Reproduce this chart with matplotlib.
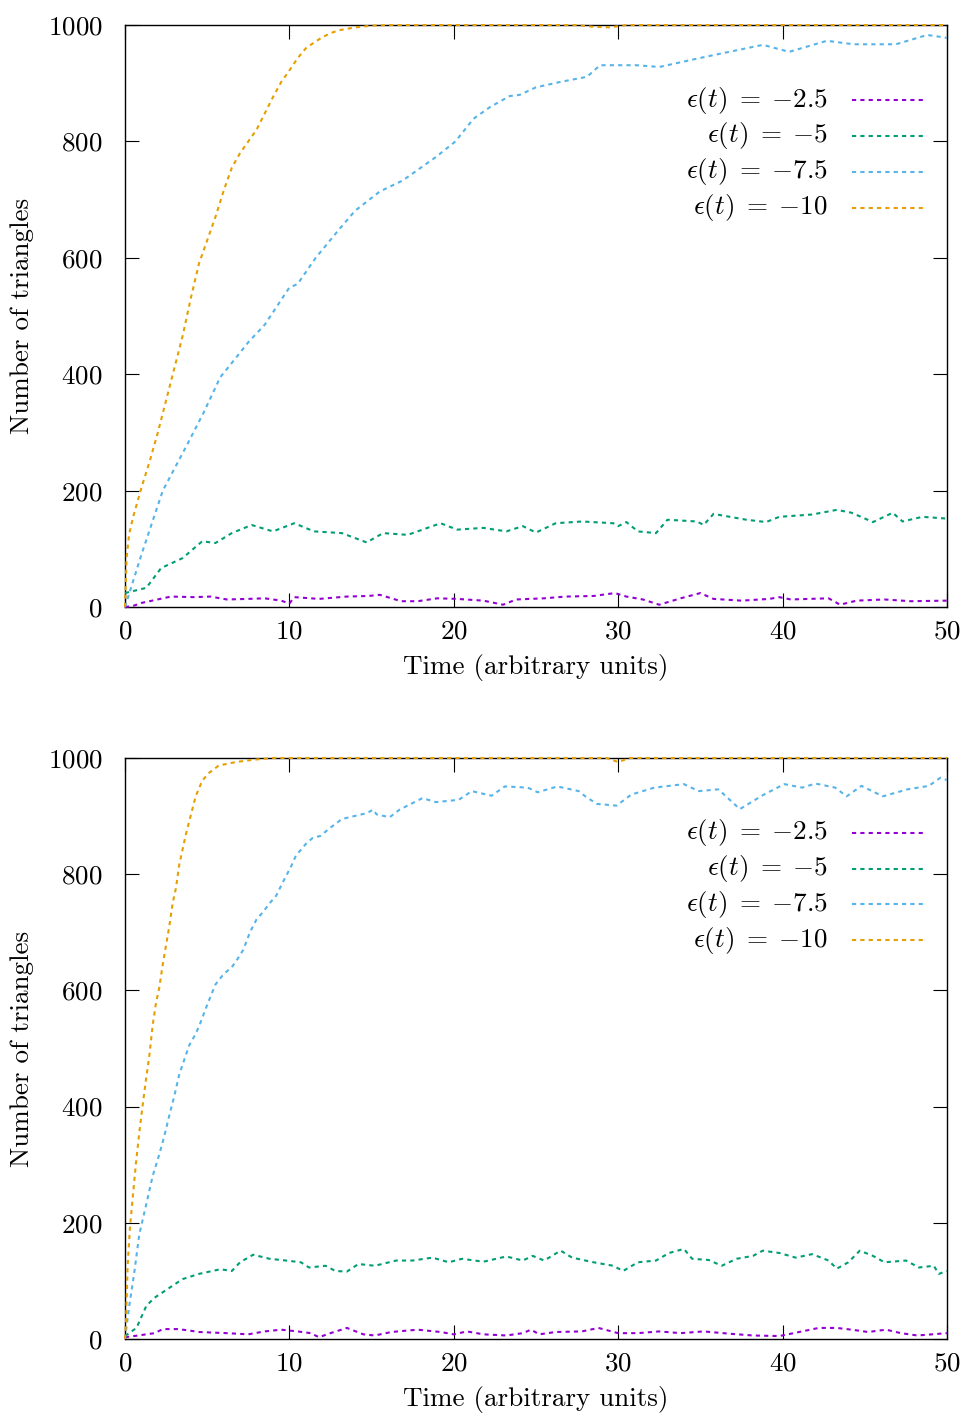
import matplotlib
matplotlib.use('Agg')
import matplotlib.pyplot as plt

# gnuplot-ish look with Computer Modern text
plt.rcParams['font.family'] = 'serif'
plt.rcParams['font.serif'] = ['cmr10']
plt.rcParams['mathtext.fontset'] = 'cm'
plt.rcParams['axes.unicode_minus'] = False
plt.rcParams['axes.formatter.use_mathtext'] = True

labels = [r'$\epsilon(t)\;=\;{-}2.5$', r'$\epsilon(t)\;=\;{-}5$',
          r'$\epsilon(t)\;=\;{-}7.5$', r'$\epsilon(t)\;=\;{-}10$']
colors = ['#9400d3', '#009e73', '#56b4e9', '#e69f00']

# ---- top panel ----
top_t_25 = [0, 0.5, 1, 2.8, 4.2, 5.2, 6.2, 7.5, 8.5, 9.5, 10, 10.3, 11.8, 13.5, 14.8, 15.5,
            16.8, 17.8, 19, 20.2, 21.8, 23, 23.8, 25.5, 26.8, 28.5, 29.8, 30.5, 31.5, 32.5,
            33.8, 35, 35.8, 37.5, 39.2, 39.8, 40.5, 42.8, 43.5, 44.5, 46.2, 47.8, 50]
top_v_25 = [0, 2, 7, 18, 17, 18, 13, 14, 15, 11, 6, 17, 14, 18, 19, 21,
            10, 10, 15, 14, 11, 4, 13, 15, 18, 19, 24, 18, 13, 4,
            15, 24, 14, 11, 14, 17, 13, 15, 4, 11, 13, 10, 11]

top_t_5 = [0, 1.3, 2.2, 3.5, 4.7, 5.5, 6.5, 7.7, 9, 10.3, 11.5, 13.2, 14.7, 15.7, 17.2,
           19.2, 20.2, 21.8, 23.2, 24.2, 25, 26.2, 27.8, 29.7, 30, 30.5, 31.2, 32.3, 33,
           34.8, 35.2, 35.8, 37.8, 39, 39.8, 41.8, 43.3, 44.2, 45.5, 46.7, 47.3, 48.5, 50]
top_v_5 = [24, 33, 67, 84, 113, 110, 127, 141, 130, 144, 130, 127, 111, 127, 124,
           144, 133, 136, 130, 139, 128, 144, 147, 144, 139, 146, 130, 127, 150,
           147, 141, 160, 150, 146, 155, 159, 167, 162, 146, 162, 147, 155, 152]

top_t_75 = [0, 1, 2.3, 3.8, 4.8, 5.8, 6.8, 7.5, 8.5, 10, 10.5, 11.6, 13, 14, 15.5, 16.9,
            18.9, 20.1, 21.2, 22.2, 23.4, 24, 25, 26.6, 28.1, 28.9, 31.1, 32.5, 35.4,
            38.8, 40.4, 42.7, 44.3, 46.9, 48.8, 50]
top_v_75 = [0, 90, 200, 280, 335, 395, 430, 455, 485, 549, 555, 600, 648, 681, 714, 733,
            773, 800, 839, 859, 878, 880, 893, 903, 911, 931, 931, 928, 946,
            966, 954, 973, 967, 967, 983, 978]

top_t_10 = [0, 0.1, 0.25, 0.5, 0.75, 1, 1.5, 2, 2.5, 3, 3.5, 4, 4.5, 5, 5.5, 6, 6.5, 7,
            7.5, 8, 8.5, 9, 9.5, 10, 10.5, 11, 11.5, 12, 12.5, 13, 14, 15, 16, 27.5,
            28.5, 29.5, 30.5, 50]
top_v_10 = [0, 85, 125, 155, 180, 205, 250, 300, 355, 410, 465, 530, 590, 630, 670, 715,
            755, 780, 800, 820, 848, 876, 902, 922, 943, 960, 970, 979, 986, 991, 996,
            999, 1000, 1000, 997, 996, 1000, 1000]

# ---- bottom panel ----
bot_t_25 = [0, 0.8, 1.8, 2.3, 3.2, 3.8, 4.5, 6.2, 7.5, 8.5, 9.5, 10.5, 11.3, 11.8, 12.5,
            13.5, 14.5, 15.2, 16.2, 17.8, 19.2, 20, 20.8, 21.8, 23.2, 24.2, 24.7, 25.2,
            26.2, 27.8, 28.8, 30, 31.2, 32.5, 33.8, 35.2, 36.8, 38.2, 39.8, 40.5, 42.2,
            43.3, 44.2, 45.2, 46.3, 47.2, 48.2, 50]
bot_v_25 = [3, 6, 10, 17, 17, 15, 12, 10, 8, 13, 16, 13, 10, 3, 10,
            19, 8, 6, 12, 16, 12, 8, 13, 8, 6, 10, 16, 8,
            12, 13, 19, 10, 10, 13, 10, 13, 9, 6, 5, 9, 19,
            19, 16, 12, 16, 10, 6, 10]

bot_t_5 = [0, 0.7, 1.3, 1.8, 2.7, 3.5, 4.5, 5.8, 6.5, 7, 7.8, 8.8, 9.8, 10.7, 11.2, 12.2,
           12.8, 13.5, 14.2, 15.2, 16.5, 17.5, 18.7, 19.7, 20.5, 21.8, 23.2, 24.2, 24.8,
           25.5, 26.5, 27.2, 28.5, 29.7, 30.3, 31.2, 32.3, 33.1, 34, 34.5, 35.5, 36.3,
           37.2, 38.2, 38.8, 39.8, 40.8, 41.8, 42.8, 43.3, 44, 44.7, 45.5, 46.2, 47.5,
           48.3, 49.2, 49.5, 50]
bot_v_5 = [5, 19, 57, 71, 88, 103, 112, 120, 117, 132, 145, 138, 135, 132, 123, 126,
           117, 116, 129, 126, 135, 135, 140, 132, 138, 133, 142, 135, 143,
           135, 152, 140, 132, 126, 117, 132, 135, 148, 155, 138, 136, 126,
           138, 143, 152, 148, 140, 146, 135, 121, 132, 152, 143, 132, 135,
           123, 126, 112, 117]

bot_t_75 = [0, 0.25, 0.57, 0.87, 1.28, 1.68, 2.09, 2.4, 2.7, 3, 3.3, 3.6, 3.9, 4.3, 4.6,
            5, 5.5, 6, 6.5, 6.8, 7.2, 7.6, 8, 8.4, 8.8, 9.2, 9.6, 10.1, 10.4, 11, 11.4,
            11.9, 12.4, 13.2, 14.1, 14.7, 15.1, 15.3, 16.1, 16.7, 18.1, 18.9, 20.3,
            21.1, 22.3, 23.1, 24.5, 25.1, 26.3, 27.6, 28, 28.7, 29.9, 30.8, 32.2, 34,
            34.9, 36.1, 37.4, 38.8, 40.1, 41.2, 42, 43.2, 43.9, 44.8, 46.1, 47.6, 48.9,
            49.6, 50]
bot_v_75 = [0, 55, 115, 180, 230, 280, 318, 350, 385, 418, 455, 480, 505, 525, 545,
            575, 610, 628, 640, 652, 670, 700, 722, 735, 750, 763, 786, 813, 832, 852, 862,
            866, 878, 895, 901, 905, 911, 903, 898, 911, 931, 924, 928,
            943, 935, 951, 949, 941, 951, 943, 934, 921, 918, 937, 949, 955,
            943, 946, 912, 936, 955, 949, 956, 949, 934, 952, 934, 946, 952,
            966, 962]

bot_t_10 = [0, 0.06, 0.16, 0.3, 0.47, 0.67, 0.87, 1.07, 1.28, 1.48, 1.68, 1.89, 2.09, 2.3,
            2.5, 2.7, 2.9, 3.1, 3.3, 3.5, 3.7, 4, 4.3, 4.7, 5.1, 5.7, 6.75, 7.8, 9,
            29.3, 30, 30.7, 50]
bot_v_10 = [0, 26, 125, 191, 243, 303, 355, 401, 447, 487, 539, 579, 605, 645,
            678, 711, 750, 776, 816, 842, 868, 901, 934, 961, 974, 987, 993, 997, 1000,
            1000, 993, 1000, 1000]

panels = [
    [(top_t_25, top_v_25), (top_t_5, top_v_5), (top_t_75, top_v_75), (top_t_10, top_v_10)],
    [(bot_t_25, bot_v_25), (bot_t_5, bot_v_5), (bot_t_75, bot_v_75), (bot_t_10, bot_v_10)],
]

fig = plt.figure(figsize=(9.65, 14.16), dpi=100)
rects = [[0.1295, 0.5713, 0.8518, 0.4110], [0.1295, 0.0544, 0.8518, 0.4103]]
fs = 19.5

for rect, series in zip(rects, panels):
    ax = fig.add_axes(rect)
    for (t, v), c in zip(series, colors):
        # unclipped so the saturated curve shows along the top border
        ax.plot(t, v, color=c, lw=1.5, ls=(0, (2, 2)), clip_on=False, zorder=3)
    ax.set_xlim(0, 50)
    ax.set_ylim(0, 1000)
    ax.set_xticks([0, 10, 20, 30, 40, 50])
    ax.set_yticks([0, 200, 400, 600, 800, 1000])
    ax.tick_params(direction='in', length=10, width=0.8, top=True, right=True,
                   labelsize=fs)
    ax.tick_params(axis='x', pad=9)
    ax.tick_params(axis='y', pad=16)
    for s in ax.spines.values():
        s.set_linewidth(1.0)
    ax.set_xlabel('Time (arbitrary units)', fontsize=fs, labelpad=8)
    ax.set_ylabel('Number of triangles', fontsize=fs, labelpad=10)

    # key drawn gnuplot-style: label right-aligned, sample to the right
    for i, (lab, c) in enumerate(zip(labels, colors)):
        y = 0.871 - i * 0.0615
        ax.text(0.855, y, lab, transform=ax.transAxes, ha='right', va='center',
                fontsize=fs)
        ax.plot([0.884, 0.972], [y, y], transform=ax.transAxes, color=c,
                lw=1.5, ls=(0, (2, 2)))

fig.savefig('out.png', dpi=100, facecolor='white')
